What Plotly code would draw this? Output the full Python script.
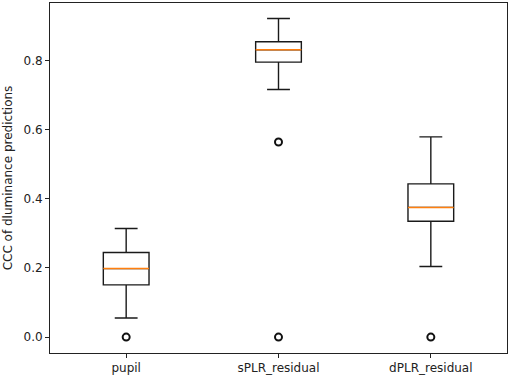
import plotly.graph_objects as go

categories = ["pupil", "sPLR_residual", "dPLR_residual"]
positions = [1, 2, 3]
q1 = [0.151, 0.795, 0.335]
median = [0.198, 0.831, 0.375]
q3 = [0.2445, 0.854, 0.443]
lowerfence = [0.055, 0.716, 0.204]
upperfence = [0.314, 0.921, 0.579]
outlier_x = [1, 2, 2, 3]
outlier_y = [0.0, 0.564, 0.0, 0.0]
yticks = [0.0, 0.2, 0.4, 0.6, 0.8]

BOX_W = 0.3
FONT = "DejaVu Sans"

fig = go.Figure()
for i in range(len(categories)):
    fig.add_trace(go.Box(
        x=[positions[i]], q1=[q1[i]], median=[median[i]], q3=[q3[i]],
        lowerfence=[lowerfence[i]], upperfence=[upperfence[i]],
        width=BOX_W, whiskerwidth=0.5, boxpoints=False,
        line=dict(color="#1a1a1a", width=1.4), fillcolor="rgba(0,0,0,0)",
        showlegend=False, hoverinfo="skip",
    ))
    fig.add_trace(go.Scatter(
        x=[positions[i] - BOX_W / 2, positions[i] + BOX_W / 2],
        y=[median[i], median[i]], mode="lines",
        line=dict(color="#ff7f0e", width=1.5), showlegend=False, hoverinfo="skip",
    ))

fig.add_trace(go.Scatter(
    x=outlier_x, y=outlier_y, mode="markers",
    marker=dict(symbol="circle-open", size=7, color="#111", line=dict(width=2, color="#111")),
    showlegend=False, hoverinfo="skip",
))

axis_common = dict(
    showline=True, mirror=True, linecolor="#222", linewidth=1,
    ticks="outside", ticklen=4, tickcolor="#222", tickwidth=1,
    showgrid=False, zeroline=False, automargin=False,
    tickfont=dict(family=FONT, size=12, color="#222"),
)

fig.update_layout(
    width=512, height=378,
    margin=dict(l=50, r=5, t=3, b=25),
    plot_bgcolor="white", paper_bgcolor="white",
    font=dict(family=FONT, size=12, color="#222"),
    xaxis=dict(range=[0.5, 3.5], tickvals=positions, ticktext=categories, **axis_common),
    yaxis=dict(range=[-0.046, 0.966], tickvals=yticks, ticktext=[f"{v:.1f}" for v in yticks],
               title=dict(text="CCC of dluminance predictions", font=dict(family=FONT, size=12, color="#222"), standoff=8),
               **axis_common),
)

fig.write_html("out.html", config={"displayModeBar": False},
               post_script="document.body.style.margin='0';document.body.style.overflow='hidden';")
